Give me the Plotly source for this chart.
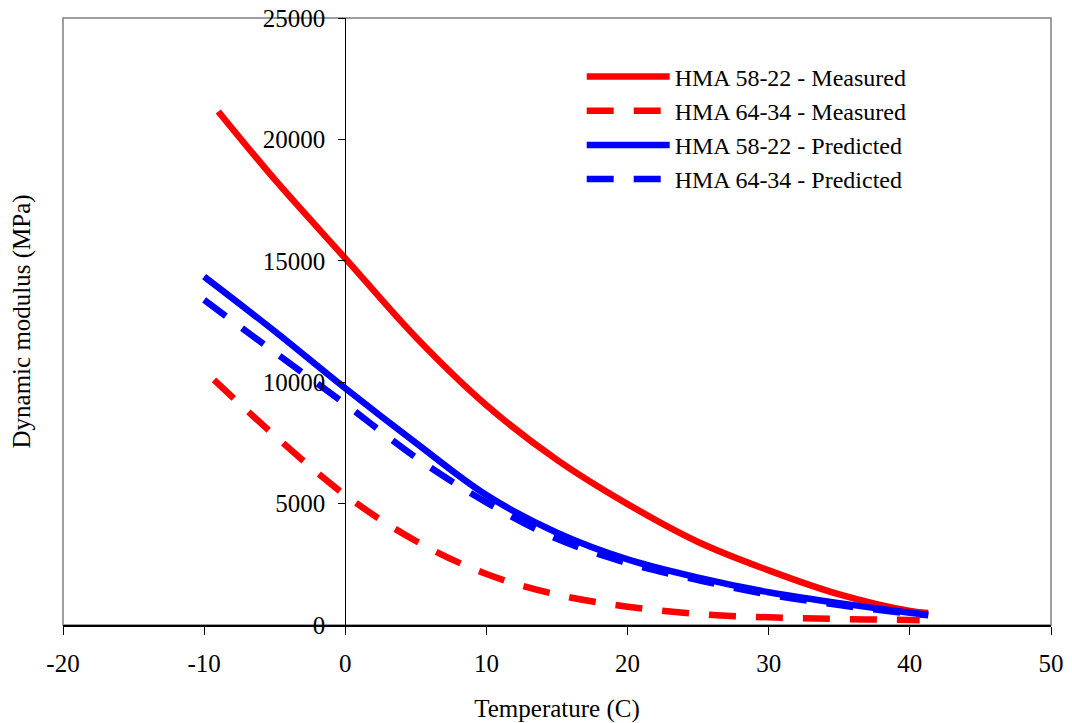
import plotly.graph_objects as go

# Temperature (C) and dynamic modulus (MPa)
t_5822_meas = [-9, -5, 0, 5, 10, 15, 20, 25, 30, 35, 40, 41.3]
e_5822_meas = [21150, 18350, 15100, 11850, 9050, 6800, 4980, 3420, 2250, 1260, 577, 494]

t_6434_meas = [-9.3, -5, 0, 5, 10, 15, 20, 25, 30, 35, 40, 40.7]
e_6434_meas = [10100, 7800, 5350, 3460, 2100, 1250, 755, 450, 316, 247, 206, 200]

t_5822_pred = [-10, -5, 0, 5, 10, 15, 20, 25, 30, 35, 40, 41.3]
e_5822_pred = [14350, 12100, 9750, 7500, 5350, 3800, 2700, 1950, 1350, 900, 508, 420]

t_6434_pred = [-10, -5, 0, 5, 10, 15, 20, 25, 30, 35, 40, 41.3]
e_6434_pred = [13390, 11230, 9100, 6900, 5050, 3550, 2550, 1850, 1250, 820, 470, 400]

series_names = ["HMA 58-22 - Measured", "HMA 64-34 - Measured",
                "HMA 58-22 - Predicted", "HMA 64-34 - Predicted"]

x_ticks = [-20, -10, 0, 10, 20, 30, 40, 50]
y_ticks = [0, 5000, 10000, 15000, 20000, 25000]

FONT = "Liberation Serif, Times New Roman, serif"
FS = 25
DASH = "27px,20px"
LW = 6.5

fig = go.Figure()
specs = [
    (t_5822_meas, e_5822_meas, "#ff0000", "solid"),
    (t_6434_meas, e_6434_meas, "#ff0000", DASH),
    (t_5822_pred, e_5822_pred, "#0000ff", "solid"),
    (t_6434_pred, e_6434_pred, "#0000ff", DASH),
]
for (xs, ys, col, dash), name in zip(specs, series_names):
    fig.add_trace(go.Scatter(
        x=xs, y=ys, mode="lines", name=name,
        line=dict(color=col, width=LW, dash=dash, shape="spline", smoothing=1.0),
    ))

x0, x1 = -20, 50
# the page body adds an 8px offset, so the figure is 8px smaller and margins shifted
fig.update_layout(
    width=1064, height=715,
    margin=dict(l=55, r=21, t=10, b=98, autoexpand=False),
    paper_bgcolor="white", plot_bgcolor="white",
    font=dict(family=FONT, size=FS, color="black"),
    showlegend=True,
    legend=dict(
        x=0.525, y=0.94, xanchor="left", yanchor="top",
        bgcolor="rgba(0,0,0,0)", borderwidth=0,
        font=dict(family=FONT, size=24, color="black"),
        itemwidth=83, tracegroupgap=0,
    ),
    xaxis=dict(
        range=[x0, x1], tickvals=x_ticks, ticktext=[str(v) for v in x_ticks],
        showgrid=False, zeroline=False, automargin=False,
        showline=True, linecolor="black", linewidth=1.5,
        ticks="outside", ticklen=8, tickcolor="black", tickwidth=1,
        ticklabelstandoff=7, ticklabeloverflow="allow",
        tickfont=dict(family=FONT, size=FS),
        title=dict(text="Temperature (C)", font=dict(family=FONT, size=FS), standoff=27),
        anchor="y",
    ),
    yaxis=dict(
        range=[0, 25000], tickvals=y_ticks, ticktext=[str(v) for v in y_ticks],
        showgrid=False, zeroline=False, automargin=False,
        showline=True, linecolor="black", linewidth=1,
        ticks="outside", ticklen=7, tickcolor="black", tickwidth=1,
        ticklabelstandoff=8, ticklabeloverflow="allow",
        tickfont=dict(family=FONT, size=FS),
        anchor="free", position=(0 - x0) / (x1 - x0),
        title=dict(text=""),
    ),
    shapes=[dict(type="rect", xref="paper", yref="paper", x0=0, x1=1, y0=0, y1=1,
                 line=dict(color="#808080", width=1.5), layer="below")],
    annotations=[dict(text="Dynamic modulus (MPa)", xref="paper", yref="paper",
                      x=-0.0425, y=0.5, textangle=-90, showarrow=False,
                      xanchor="center", yanchor="middle",
                      font=dict(family=FONT, size=FS, color="black"))],
)

fig.write_html("out.html")
